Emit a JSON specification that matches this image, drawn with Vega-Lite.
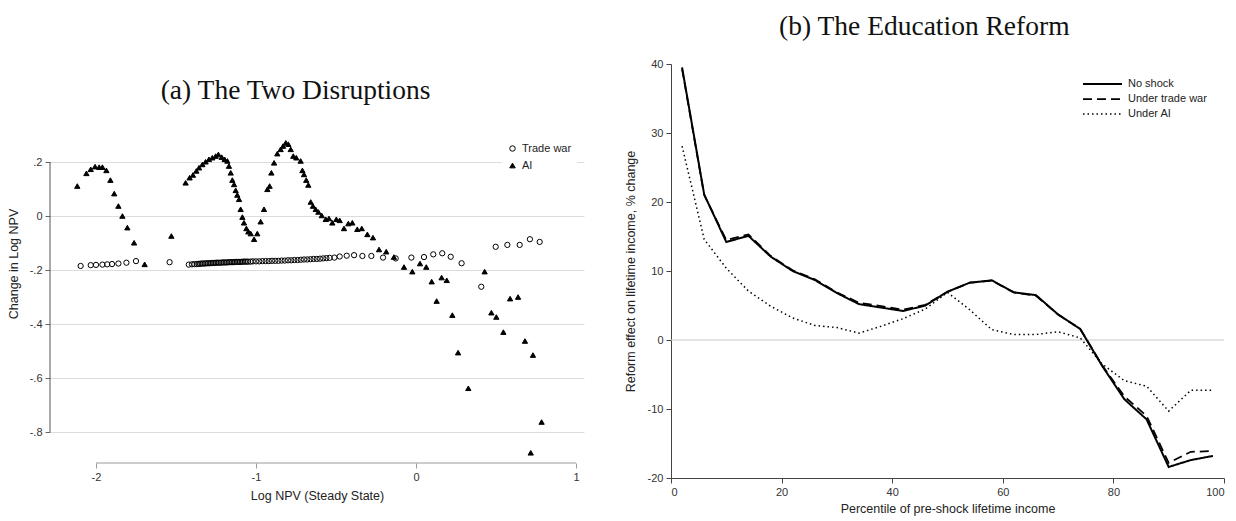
{
 "$schema": "https://vega.github.io/schema/vega-lite/v6.json",
 "background": "white",
 "padding": {"left": 7, "top": 12, "right": 5, "bottom": 5},
 "bounds": "flush",
 "spacing": 87,
 "resolve": {
  "scale": {"shape": "independent", "fill": "independent", "strokeDash": "independent", "strokeWidth": "independent"},
  "legend": {"shape": "independent", "fill": "independent", "strokeDash": "independent", "strokeWidth": "independent"}
 },
 "config": {
  "view": {"stroke": null},
  "axis": {"labelFont": "Liberation Sans", "titleFont": "Liberation Sans", "labelFontSize": 11, "titleFontSize": 12.5, "titleFontWeight": "normal", "labelColor": "#333", "titleColor": "#222", "tickColor": "#444", "domainColor": "#444", "tickSize": 5, "labelPadding": 3},
  "legend": {"labelFont": "Liberation Sans", "labelFontSize": 11, "labelColor": "#222"},
  "title": {"font": "Liberation Serif", "fontSize": 27.5, "fontWeight": "normal", "color": "#111", "frame": "bounds", "offset": 18}
 },
 "datasets": {
  "scatter": [
   {"x": -2.096, "y": -0.185, "series": "Trade war"},
   {"x": -2.033, "y": -0.182, "series": "Trade war"},
   {"x": -2.0, "y": -0.181, "series": "Trade war"},
   {"x": -1.96, "y": -0.18, "series": "Trade war"},
   {"x": -1.93, "y": -0.179, "series": "Trade war"},
   {"x": -1.9, "y": -0.178, "series": "Trade war"},
   {"x": -1.86, "y": -0.176, "series": "Trade war"},
   {"x": -1.81, "y": -0.173, "series": "Trade war"},
   {"x": -1.75, "y": -0.167, "series": "Trade war"},
   {"x": -1.54, "y": -0.171, "series": "Trade war"},
   {"x": -1.42, "y": -0.18, "series": "Trade war"},
   {"x": -1.4, "y": -0.179, "series": "Trade war"},
   {"x": -1.385, "y": -0.178, "series": "Trade war"},
   {"x": -1.37, "y": -0.178, "series": "Trade war"},
   {"x": -1.36, "y": -0.177, "series": "Trade war"},
   {"x": -1.35, "y": -0.177, "series": "Trade war"},
   {"x": -1.34, "y": -0.176, "series": "Trade war"},
   {"x": -1.33, "y": -0.176, "series": "Trade war"},
   {"x": -1.32, "y": -0.176, "series": "Trade war"},
   {"x": -1.31, "y": -0.175, "series": "Trade war"},
   {"x": -1.3, "y": -0.175, "series": "Trade war"},
   {"x": -1.29, "y": -0.175, "series": "Trade war"},
   {"x": -1.28, "y": -0.174, "series": "Trade war"},
   {"x": -1.27, "y": -0.174, "series": "Trade war"},
   {"x": -1.26, "y": -0.174, "series": "Trade war"},
   {"x": -1.25, "y": -0.173, "series": "Trade war"},
   {"x": -1.24, "y": -0.173, "series": "Trade war"},
   {"x": -1.23, "y": -0.173, "series": "Trade war"},
   {"x": -1.22, "y": -0.173, "series": "Trade war"},
   {"x": -1.21, "y": -0.172, "series": "Trade war"},
   {"x": -1.2, "y": -0.172, "series": "Trade war"},
   {"x": -1.19, "y": -0.172, "series": "Trade war"},
   {"x": -1.18, "y": -0.172, "series": "Trade war"},
   {"x": -1.17, "y": -0.171, "series": "Trade war"},
   {"x": -1.16, "y": -0.171, "series": "Trade war"},
   {"x": -1.15, "y": -0.171, "series": "Trade war"},
   {"x": -1.14, "y": -0.171, "series": "Trade war"},
   {"x": -1.13, "y": -0.17, "series": "Trade war"},
   {"x": -1.12, "y": -0.17, "series": "Trade war"},
   {"x": -1.11, "y": -0.17, "series": "Trade war"},
   {"x": -1.1, "y": -0.17, "series": "Trade war"},
   {"x": -1.09, "y": -0.17, "series": "Trade war"},
   {"x": -1.08, "y": -0.169, "series": "Trade war"},
   {"x": -1.07, "y": -0.169, "series": "Trade war"},
   {"x": -1.06, "y": -0.169, "series": "Trade war"},
   {"x": -1.05, "y": -0.169, "series": "Trade war"},
   {"x": -1.035, "y": -0.169, "series": "Trade war"},
   {"x": -1.02, "y": -0.168, "series": "Trade war"},
   {"x": -1.0, "y": -0.168, "series": "Trade war"},
   {"x": -0.98, "y": -0.168, "series": "Trade war"},
   {"x": -0.96, "y": -0.167, "series": "Trade war"},
   {"x": -0.94, "y": -0.167, "series": "Trade war"},
   {"x": -0.92, "y": -0.167, "series": "Trade war"},
   {"x": -0.9, "y": -0.166, "series": "Trade war"},
   {"x": -0.88, "y": -0.166, "series": "Trade war"},
   {"x": -0.86, "y": -0.166, "series": "Trade war"},
   {"x": -0.84, "y": -0.165, "series": "Trade war"},
   {"x": -0.82, "y": -0.165, "series": "Trade war"},
   {"x": -0.8, "y": -0.164, "series": "Trade war"},
   {"x": -0.78, "y": -0.164, "series": "Trade war"},
   {"x": -0.76, "y": -0.163, "series": "Trade war"},
   {"x": -0.74, "y": -0.163, "series": "Trade war"},
   {"x": -0.72, "y": -0.162, "series": "Trade war"},
   {"x": -0.7, "y": -0.161, "series": "Trade war"},
   {"x": -0.68, "y": -0.161, "series": "Trade war"},
   {"x": -0.66, "y": -0.16, "series": "Trade war"},
   {"x": -0.64, "y": -0.159, "series": "Trade war"},
   {"x": -0.62, "y": -0.159, "series": "Trade war"},
   {"x": -0.6, "y": -0.158, "series": "Trade war"},
   {"x": -0.58, "y": -0.157, "series": "Trade war"},
   {"x": -0.56, "y": -0.156, "series": "Trade war"},
   {"x": -0.54, "y": -0.155, "series": "Trade war"},
   {"x": -0.51, "y": -0.154, "series": "Trade war"},
   {"x": -0.477, "y": -0.15, "series": "Trade war"},
   {"x": -0.433, "y": -0.147, "series": "Trade war"},
   {"x": -0.387, "y": -0.145, "series": "Trade war"},
   {"x": -0.335, "y": -0.148, "series": "Trade war"},
   {"x": -0.279, "y": -0.148, "series": "Trade war"},
   {"x": -0.206, "y": -0.154, "series": "Trade war"},
   {"x": -0.127, "y": -0.157, "series": "Trade war"},
   {"x": -0.029, "y": -0.154, "series": "Trade war"},
   {"x": 0.05, "y": -0.152, "series": "Trade war"},
   {"x": 0.108, "y": -0.142, "series": "Trade war"},
   {"x": 0.164, "y": -0.138, "series": "Trade war"},
   {"x": 0.217, "y": -0.151, "series": "Trade war"},
   {"x": 0.285, "y": -0.175, "series": "Trade war"},
   {"x": 0.408, "y": -0.262, "series": "Trade war"},
   {"x": 0.498, "y": -0.114, "series": "Trade war"},
   {"x": 0.571, "y": -0.107, "series": "Trade war"},
   {"x": 0.648, "y": -0.107, "series": "Trade war"},
   {"x": 0.712, "y": -0.086, "series": "Trade war"},
   {"x": 0.773, "y": -0.096, "series": "Trade war"},
   {"x": -2.117, "y": 0.111, "series": "AI"},
   {"x": -2.06, "y": 0.158, "series": "AI"},
   {"x": -2.033, "y": 0.173, "series": "AI"},
   {"x": -2.006, "y": 0.183, "series": "AI"},
   {"x": -1.98, "y": 0.181, "series": "AI"},
   {"x": -1.96, "y": 0.181, "series": "AI"},
   {"x": -1.935, "y": 0.169, "series": "AI"},
   {"x": -1.91, "y": 0.133, "series": "AI"},
   {"x": -1.886, "y": 0.083, "series": "AI"},
   {"x": -1.86, "y": 0.037, "series": "AI"},
   {"x": -1.835, "y": 0.0, "series": "AI"},
   {"x": -1.804, "y": -0.043, "series": "AI"},
   {"x": -1.762, "y": -0.099, "series": "AI"},
   {"x": -1.696, "y": -0.179, "series": "AI"},
   {"x": -1.529, "y": -0.074, "series": "AI"},
   {"x": -1.44, "y": 0.123, "series": "AI"},
   {"x": -1.415, "y": 0.142, "series": "AI"},
   {"x": -1.394, "y": 0.152, "series": "AI"},
   {"x": -1.373, "y": 0.167, "series": "AI"},
   {"x": -1.356, "y": 0.179, "series": "AI"},
   {"x": -1.335, "y": 0.191, "series": "AI"},
   {"x": -1.315, "y": 0.201, "series": "AI"},
   {"x": -1.294, "y": 0.21, "series": "AI"},
   {"x": -1.273, "y": 0.216, "series": "AI"},
   {"x": -1.252, "y": 0.222, "series": "AI"},
   {"x": -1.235, "y": 0.228, "series": "AI"},
   {"x": -1.214, "y": 0.218, "series": "AI"},
   {"x": -1.196, "y": 0.21, "series": "AI"},
   {"x": -1.179, "y": 0.204, "series": "AI"},
   {"x": -1.169, "y": 0.185, "series": "AI"},
   {"x": -1.158, "y": 0.16, "series": "AI"},
   {"x": -1.148, "y": 0.133, "series": "AI"},
   {"x": -1.137, "y": 0.117, "series": "AI"},
   {"x": -1.127, "y": 0.095, "series": "AI"},
   {"x": -1.117, "y": 0.078, "series": "AI"},
   {"x": -1.106, "y": 0.062, "series": "AI"},
   {"x": -1.096, "y": 0.025, "series": "AI"},
   {"x": -1.085, "y": -0.004, "series": "AI"},
   {"x": -1.075, "y": -0.025, "series": "AI"},
   {"x": -1.06, "y": -0.046, "series": "AI"},
   {"x": -1.048, "y": -0.058, "series": "AI"},
   {"x": -1.033, "y": -0.065, "series": "AI"},
   {"x": -1.012, "y": -0.086, "series": "AI"},
   {"x": -0.992, "y": -0.065, "series": "AI"},
   {"x": -0.971, "y": -0.021, "series": "AI"},
   {"x": -0.95, "y": 0.025, "series": "AI"},
   {"x": -0.929, "y": 0.099, "series": "AI"},
   {"x": -0.915, "y": 0.111, "series": "AI"},
   {"x": -0.904, "y": 0.16, "series": "AI"},
   {"x": -0.887, "y": 0.197, "series": "AI"},
   {"x": -0.867, "y": 0.231, "series": "AI"},
   {"x": -0.846, "y": 0.247, "series": "AI"},
   {"x": -0.831, "y": 0.259, "series": "AI"},
   {"x": -0.814, "y": 0.271, "series": "AI"},
   {"x": -0.798, "y": 0.266, "series": "AI"},
   {"x": -0.783, "y": 0.247, "series": "AI"},
   {"x": -0.767, "y": 0.222, "series": "AI"},
   {"x": -0.748, "y": 0.216, "series": "AI"},
   {"x": -0.721, "y": 0.204, "series": "AI"},
   {"x": -0.71, "y": 0.169, "series": "AI"},
   {"x": -0.7, "y": 0.154, "series": "AI"},
   {"x": -0.686, "y": 0.133, "series": "AI"},
   {"x": -0.673, "y": 0.115, "series": "AI"},
   {"x": -0.658, "y": 0.052, "series": "AI"},
   {"x": -0.644, "y": 0.037, "series": "AI"},
   {"x": -0.627, "y": 0.025, "series": "AI"},
   {"x": -0.61, "y": 0.015, "series": "AI"},
   {"x": -0.589, "y": 0.002, "series": "AI"},
   {"x": -0.564, "y": -0.012, "series": "AI"},
   {"x": -0.544, "y": -0.009, "series": "AI"},
   {"x": -0.523, "y": -0.025, "series": "AI"},
   {"x": -0.498, "y": -0.012, "series": "AI"},
   {"x": -0.477, "y": -0.016, "series": "AI"},
   {"x": -0.45, "y": -0.046, "series": "AI"},
   {"x": -0.423, "y": -0.028, "series": "AI"},
   {"x": -0.398, "y": -0.025, "series": "AI"},
   {"x": -0.367, "y": -0.049, "series": "AI"},
   {"x": -0.339, "y": -0.046, "series": "AI"},
   {"x": -0.304, "y": -0.068, "series": "AI"},
   {"x": -0.269, "y": -0.08, "series": "AI"},
   {"x": -0.231, "y": -0.124, "series": "AI"},
   {"x": -0.186, "y": -0.132, "series": "AI"},
   {"x": -0.138, "y": -0.152, "series": "AI"},
   {"x": -0.075, "y": -0.189, "series": "AI"},
   {"x": -0.023, "y": -0.206, "series": "AI"},
   {"x": 0.025, "y": -0.176, "series": "AI"},
   {"x": 0.064, "y": -0.189, "series": "AI"},
   {"x": 0.098, "y": -0.243, "series": "AI"},
   {"x": 0.129, "y": -0.315, "series": "AI"},
   {"x": 0.16, "y": -0.228, "series": "AI"},
   {"x": 0.192, "y": -0.238, "series": "AI"},
   {"x": 0.227, "y": -0.367, "series": "AI"},
   {"x": 0.263, "y": -0.506, "series": "AI"},
   {"x": 0.327, "y": -0.638, "series": "AI"},
   {"x": 0.429, "y": -0.206, "series": "AI"},
   {"x": 0.471, "y": -0.358, "series": "AI"},
   {"x": 0.502, "y": -0.374, "series": "AI"},
   {"x": 0.546, "y": -0.43, "series": "AI"},
   {"x": 0.588, "y": -0.306, "series": "AI"},
   {"x": 0.638, "y": -0.3, "series": "AI"},
   {"x": 0.681, "y": -0.463, "series": "AI"},
   {"x": 0.717, "y": -0.877, "series": "AI"},
   {"x": 0.731, "y": -0.515, "series": "AI"},
   {"x": 0.785, "y": -0.763, "series": "AI"}
  ],
  "lines": [
   {"pct": 2, "value": 39.5, "series": "No shock"},
   {"pct": 6, "value": 21.1, "series": "No shock"},
   {"pct": 10, "value": 14.2, "series": "No shock"},
   {"pct": 14, "value": 15.1, "series": "No shock"},
   {"pct": 18, "value": 12.1, "series": "No shock"},
   {"pct": 22, "value": 10.0, "series": "No shock"},
   {"pct": 26, "value": 8.7, "series": "No shock"},
   {"pct": 30, "value": 6.8, "series": "No shock"},
   {"pct": 34, "value": 5.2, "series": "No shock"},
   {"pct": 38, "value": 4.7, "series": "No shock"},
   {"pct": 42, "value": 4.2, "series": "No shock"},
   {"pct": 46, "value": 5.0, "series": "No shock"},
   {"pct": 50, "value": 7.0, "series": "No shock"},
   {"pct": 54, "value": 8.3, "series": "No shock"},
   {"pct": 58, "value": 8.65, "series": "No shock"},
   {"pct": 62, "value": 6.9, "series": "No shock"},
   {"pct": 66, "value": 6.5, "series": "No shock"},
   {"pct": 70, "value": 3.7, "series": "No shock"},
   {"pct": 74, "value": 1.6, "series": "No shock"},
   {"pct": 78, "value": -3.8, "series": "No shock"},
   {"pct": 82, "value": -8.6, "series": "No shock"},
   {"pct": 86, "value": -11.5, "series": "No shock"},
   {"pct": 90, "value": -18.4, "series": "No shock"},
   {"pct": 94, "value": -17.4, "series": "No shock"},
   {"pct": 98, "value": -16.8, "series": "No shock"},
   {"pct": 2, "value": 39.3, "series": "Under trade war"},
   {"pct": 6, "value": 21.0, "series": "Under trade war"},
   {"pct": 10, "value": 14.5, "series": "Under trade war"},
   {"pct": 14, "value": 15.3, "series": "Under trade war"},
   {"pct": 18, "value": 12.2, "series": "Under trade war"},
   {"pct": 22, "value": 10.1, "series": "Under trade war"},
   {"pct": 26, "value": 8.8, "series": "Under trade war"},
   {"pct": 30, "value": 6.9, "series": "Under trade war"},
   {"pct": 34, "value": 5.4, "series": "Under trade war"},
   {"pct": 38, "value": 4.9, "series": "Under trade war"},
   {"pct": 42, "value": 4.4, "series": "Under trade war"},
   {"pct": 46, "value": 5.1, "series": "Under trade war"},
   {"pct": 50, "value": 7.0, "series": "Under trade war"},
   {"pct": 54, "value": 8.3, "series": "Under trade war"},
   {"pct": 58, "value": 8.6, "series": "Under trade war"},
   {"pct": 62, "value": 6.9, "series": "Under trade war"},
   {"pct": 66, "value": 6.4, "series": "Under trade war"},
   {"pct": 70, "value": 3.7, "series": "Under trade war"},
   {"pct": 74, "value": 1.6, "series": "Under trade war"},
   {"pct": 78, "value": -3.7, "series": "Under trade war"},
   {"pct": 82, "value": -8.2, "series": "Under trade war"},
   {"pct": 86, "value": -11.0, "series": "Under trade war"},
   {"pct": 90, "value": -17.8, "series": "Under trade war"},
   {"pct": 94, "value": -16.2, "series": "Under trade war"},
   {"pct": 98, "value": -16.1, "series": "Under trade war"},
   {"pct": 2, "value": 28.1, "series": "Under AI"},
   {"pct": 6, "value": 14.6, "series": "Under AI"},
   {"pct": 10, "value": 10.4, "series": "Under AI"},
   {"pct": 14, "value": 7.1, "series": "Under AI"},
   {"pct": 18, "value": 4.9, "series": "Under AI"},
   {"pct": 22, "value": 3.2, "series": "Under AI"},
   {"pct": 26, "value": 2.1, "series": "Under AI"},
   {"pct": 30, "value": 1.8, "series": "Under AI"},
   {"pct": 34, "value": 1.0, "series": "Under AI"},
   {"pct": 38, "value": 2.0, "series": "Under AI"},
   {"pct": 42, "value": 3.1, "series": "Under AI"},
   {"pct": 46, "value": 4.5, "series": "Under AI"},
   {"pct": 50, "value": 6.9, "series": "Under AI"},
   {"pct": 54, "value": 4.4, "series": "Under AI"},
   {"pct": 58, "value": 1.5, "series": "Under AI"},
   {"pct": 62, "value": 0.8, "series": "Under AI"},
   {"pct": 66, "value": 0.8, "series": "Under AI"},
   {"pct": 70, "value": 1.2, "series": "Under AI"},
   {"pct": 74, "value": 0.3, "series": "Under AI"},
   {"pct": 78, "value": -3.5, "series": "Under AI"},
   {"pct": 82, "value": -5.9, "series": "Under AI"},
   {"pct": 86, "value": -6.7, "series": "Under AI"},
   {"pct": 90, "value": -10.3, "series": "Under AI"},
   {"pct": 94, "value": -7.3, "series": "Under AI"},
   {"pct": 98, "value": -7.3, "series": "Under AI"}
  ]
 },
 "hconcat": [
  {
   "width": 534,
   "height": 399,
   "title": {"text": "(a) The Two Disruptions", "dy": 58},
   "layer": [
    {
     "data": {"name": "scatter"},
     "mark": {"type": "point", "filled": true, "stroke": "black", "strokeWidth": 1, "size": 28, "opacity": 1},
     "encoding": {
      "x": {"field": "x", "type": "quantitative", "scale": {"domain": [-2.2875, 1.05], "nice": false, "zero": false},
       "axis": {"values": [-2, -1, 0, 1], "title": "Log NPV (Steady State)", "labelExpr": "'' + datum.value", "grid": false, "domain": false, "tickColor": "#999", "titlePadding": 7}},
      "y": {"field": "y", "type": "quantitative", "scale": {"domain": [-0.9148, 0.563], "nice": false, "zero": false},
       "axis": {"values": [-0.8, -0.6, -0.4, -0.2, 0, 0.2], "title": "Change in Log NPV", "labelExpr": "replace('' + round(datum.value*10)/10, '0.', '.')", "grid": true, "gridColor": "#dcdcdc", "domain": false, "tickColor": "#666", "titlePadding": 9}},
      "shape": {"field": "series", "type": "nominal", "scale": {"domain": ["Trade war", "AI"], "range": ["circle", "triangle-up"]},
       "legend": {"title": null, "orient": "none", "legendX": 452, "legendY": 74, "fillColor": "white", "padding": 5, "symbolSize": 30, "symbolStrokeWidth": 1, "rowPadding": 5}},
      "fill": {"field": "series", "type": "nominal", "scale": {"domain": ["Trade war", "AI"], "range": ["rgba(0,0,0,0)", "black"]},
       "legend": {"title": null, "orient": "none", "legendX": 452, "legendY": 74, "fillColor": "white", "padding": 5, "symbolSize": 30, "symbolStrokeWidth": 1, "rowPadding": 5}}
     }
    },
    {
     "data": {"values": [{}]},
     "mark": {"type": "rule", "color": "#9a9a9a", "strokeWidth": 1},
     "encoding": {"x": {"datum": -2, "type": "quantitative"}, "x2": {"datum": 1}, "y": {"datum": -0.9148, "type": "quantitative"}}
    },
    {
     "data": {"values": [{}]},
     "mark": {"type": "rule", "color": "#555", "strokeWidth": 1},
     "encoding": {"x": {"datum": -2.2875, "type": "quantitative"}, "y": {"datum": -0.8, "type": "quantitative"}, "y2": {"datum": 0.2}}
    }
   ]
  },
  {
   "width": 553,
   "height": 414,
   "title": {"text": "(b) The Education Reform"},
   "layer": [
    {
     "data": {"values": [{}]},
     "mark": {"type": "rule", "color": "#c8c8c8", "strokeWidth": 1},
     "encoding": {"y": {"datum": 0, "type": "quantitative"}}
    },
    {
     "data": {"name": "lines"},
     "mark": {"type": "line", "color": "black"},
     "encoding": {
      "x": {"field": "pct", "type": "quantitative", "scale": {"domain": [0, 100], "nice": false},
       "axis": {"values": [0, 20, 40, 60, 80, 100], "title": "Percentile of pre-shock lifetime income", "grid": false, "labelExpr": "'' + datum.value", "titlePadding": 5}},
      "y": {"field": "value", "type": "quantitative", "scale": {"domain": [-20, 40], "nice": false},
       "axis": {"values": [-20, -10, 0, 10, 20, 30, 40], "title": "Reform effect on lifetime income, % change", "grid": false, "labelExpr": "'' + datum.value", "titlePadding": 10}},
      "strokeDash": {"field": "series", "type": "nominal", "scale": {"domain": ["No shock", "Under trade war", "Under AI"], "range": [[1, 0], [9, 5], [1.5, 3]]},
       "legend": {"title": null, "orient": "none", "legendX": 411, "legendY": 10, "symbolType": "M-1,0L3.33,0", "symbolSize": 324, "labelOffset": 26, "rowPadding": 0, "symbolStrokeColor": "black"}},
      "strokeWidth": {"field": "series", "type": "nominal", "scale": {"domain": ["No shock", "Under trade war", "Under AI"], "range": [2, 1.5, 1.5]},
       "legend": {"title": null, "orient": "none", "legendX": 411, "legendY": 10, "symbolType": "M-1,0L3.33,0", "symbolSize": 324, "labelOffset": 26, "rowPadding": 0, "symbolStrokeColor": "black"}}
     }
    }
   ]
  }
 ]
}
